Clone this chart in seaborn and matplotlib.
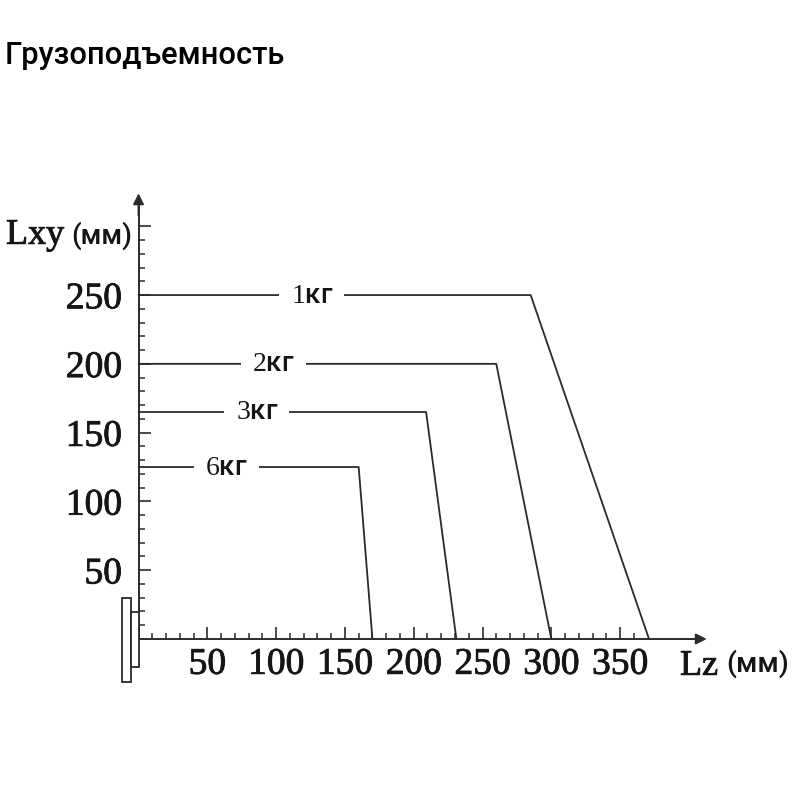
import matplotlib
matplotlib.use("Agg")
import matplotlib.pyplot as plt
import matplotlib.patches as mpatches
import matplotlib.patheffects as pe
from matplotlib.ticker import FixedLocator, FixedFormatter
import seaborn as sns
import pandas as pd

# ---- data (mm) ----
loads = ["1", "2", "3", "6"]                 # kg
lxy_max = [250, 200, 165, 125]               # Lxy plateau
lz_corner = [285, 260, 209, 160]             # Lz where the slope starts
lz_end = [371, 300, 231, 170]                # Lz at Lxy = 0
label_x = [126, 98, 86, 64]                  # label centres on plateau
x_major = [50, 100, 150, 200, 250, 300, 350]
x_major_labels = ["50", "100", "150", "200", "250", "300", "350"]
x_minor = list(range(10, 370, 10))
y_major = [50, 100, 150, 200, 250, 300]
y_major_labels = ["50", "100", "150", "200", "250", ""]
y_minor = list(range(10, 300, 10))

title = "Грузоподъемность"
xlabel_main, ylabel_main, unit = "Lz", "Lxy", "(мм)"

sns.set_theme(style="white")
plt.rcParams["mathtext.fontset"] = "custom"
plt.rcParams["mathtext.rm"] = "Liberation Serif"
plt.rcParams["font.family"] = ["Roboto", "DejaVu Sans"]

ink = "#2b2b2b"
txt = "#151515"
bold = [pe.withStroke(linewidth=0.6, foreground=txt)]

fig = plt.figure(figsize=(8, 8), dpi=100)
# axes placed so that 1 mm = 1.376 px, origin at (138.5, 639) px
ax = fig.add_axes([0.13875, 0.1325, 0.7568, 0.63625])
ax.set_xlim(-20, 420)
ax.set_ylim(-40, 330)

rows = []
for k, h, c, e in zip(loads, lxy_max, lz_corner, lz_end):
    rows += [(k, 0, h, 0), (k, c, h, 1), (k, e, 0, 2)]
df = pd.DataFrame(rows, columns=["load", "Lz", "Lxy", "order"])
for k in loads:
    sub = df[df["load"] == k]
    sns.lineplot(data=sub, x="Lz", y="Lxy", sort=False, estimator=None,
                 color=ink, lw=1.3, ax=ax, zorder=2)

for k, h, lx in zip(loads, lxy_max, label_x):
    ax.text(lx, h, f"${k}$кг", ha="center", va="center", fontsize=20,
            color=txt, zorder=3, fontweight="medium",
            bbox=dict(boxstyle="square,pad=0.4", fc="white", ec="none"))

# spines at zero with arrows
for s in ["top", "right"]:
    ax.spines[s].set_visible(False)
ax.spines["left"].set_position(("data", 0))
ax.spines["bottom"].set_position(("data", 0))
ax.spines["left"].set_bounds(0, 320)
ax.spines["bottom"].set_bounds(0, 410)
for s in ["left", "bottom"]:
    ax.spines[s].set_color(ink)
    ax.spines[s].set_linewidth(1.4)
ax.annotate("", xy=(415, 0), xytext=(395, 0),
            arrowprops=dict(arrowstyle="-|>", color=ink, lw=1.4, mutation_scale=16))
ax.annotate("", xy=(0, 326), xytext=(0, 306),
            arrowprops=dict(arrowstyle="-|>", color=ink, lw=1.4, mutation_scale=16))

ax.xaxis.set_major_locator(FixedLocator(x_major))
ax.xaxis.set_major_formatter(FixedFormatter(x_major_labels))
ax.xaxis.set_minor_locator(FixedLocator(x_minor))
ax.yaxis.set_major_locator(FixedLocator(y_major))
ax.yaxis.set_major_formatter(FixedFormatter(y_major_labels))
ax.yaxis.set_minor_locator(FixedLocator(y_minor))
ax.tick_params(which="major", direction="in", length=8.5, width=1.2, color=ink,
               labelsize=27, labelcolor=txt)
ax.tick_params(which="minor", direction="in", length=4.5, width=1.1, color=ink)
ax.tick_params(axis="x", which="major", pad=6)
ax.tick_params(axis="y", which="major", pad=12)
ax.tick_params(axis="x", which="both", bottom=True)
ax.tick_params(axis="y", which="both", left=True)
for lab in ax.get_xticklabels() + ax.get_yticklabels():
    lab.set_fontfamily("Liberation Serif")
    lab.set_path_effects(bold)
ax.set_xlabel("")
ax.set_ylabel("")

# mounting flange sketch at the origin
ax.add_patch(mpatches.Rectangle((-12.2, -31), 6.5, 61, fc="white", ec=ink, lw=1.3, zorder=4))
ax.add_patch(mpatches.Rectangle((-5.7, -20.3), 6.0, 40.1, fc="white", ec=ink, lw=1.3, zorder=4))

# axis titles
fig.text(6 / 800, 1 - 236 / 800, f"$\\mathrm{{{ylabel_main}}}$", fontsize=26,
         va="center", ha="left", color=txt, path_effects=bold)
fig.text(71 / 800, 1 - 236 / 800, unit, fontsize=20, va="center", ha="left",
         color=txt, fontweight="medium")
fig.text(680 / 800, 1 - 665 / 800, f"$\\mathrm{{{xlabel_main}}}$", fontsize=26,
         va="center", ha="left", color=txt, path_effects=bold)
fig.text(726 / 800, 1 - 664 / 800, unit, fontsize=20.5, va="center", ha="left",
         color=txt, fontweight="medium")

fig.text(5 / 800, 1 - 56 / 800, title, fontsize=22.2, va="center", ha="left",
         color="black", fontweight="medium", fontfamily=["Roboto", "DejaVu Sans"])

fig.savefig("out.png", dpi=100, facecolor="white")
